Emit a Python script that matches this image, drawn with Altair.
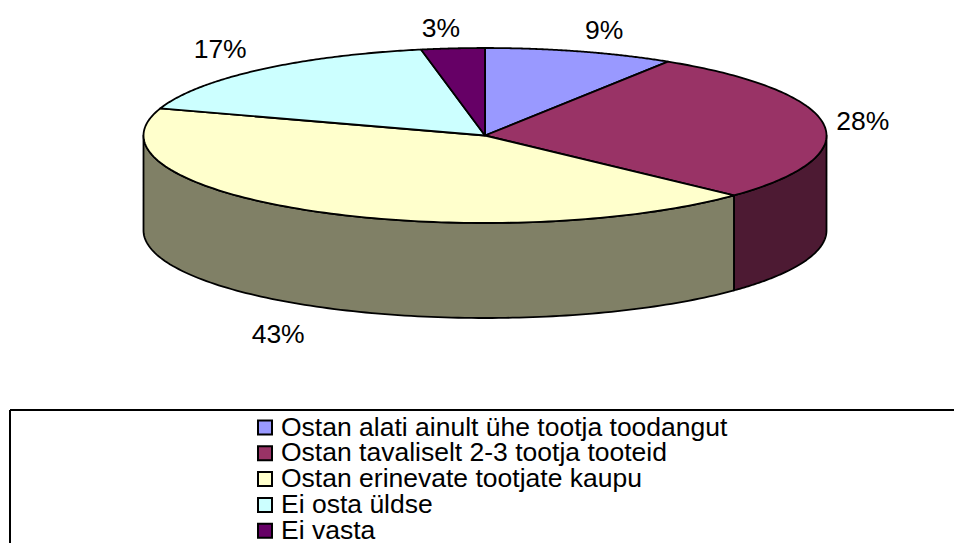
import math
import altair as alt
import pandas as pd

# Data
categories = ["Ostan alati ainult ühe tootja toodangut", "Ostan tavaliselt 2-3 tootja tooteid",
              "Ostan erinevate tootjate kaupu", "Ei osta üldse", "Ei vasta"]
shares = [9, 28, 43, 17, 3]
top_colors = ["#9999FF", "#993366", "#FFFFCC", "#CCFFFF", "#660066"]
side_colors = ["#4D4D80", "#4D1A33", "#808066", "#668080", "#330033"]

# Layout (page pixels)
W, H = 946, 535
CX, CY, RX, RY, DEPTH = 485, 135.5, 341.5, 87.5, 95
LABEL_SHIFT = [(24, -20), (39, -3), (-33, 29), (-39, -20), (-12, -19)]
BOX_X, BOX_Y = 10, 410
LEG_X, LEG_TEXT_X, LEG_Y0, LEG_STEP, LEG_SIZE = 258, 281, 427.5, 25.8, 14
FONT = "Liberation Sans"
LABEL_FS, LEGEND_FS = 26.5, 26.5


def pt(deg, drop=0.0):
    a = math.radians(deg)
    return CX + RX * math.sin(a), CY - RY * math.cos(a) + drop


tops, sides, labels = [], [], []
cum = 0.0
for i, (cat, s) in enumerate(zip(categories, shares)):
    a0, a1 = cum * 3.6, (cum + s) * 3.6
    cum += s
    path = [(CX, CY)] + [pt(a0 + (a1 - a0) * k / 120) for k in range(121)]
    for k, (x, y) in enumerate(path):
        tops.append(dict(slice=cat, k=k, x=x, y=y, c=top_colors[i]))
    b0, b1 = max(a0, 90), min(a1, 270)
    if b1 > b0:
        arc = [b0 + (b1 - b0) * k / 120 for k in range(121)]
        path = [pt(d) for d in arc] + [pt(d, DEPTH) for d in reversed(arc)]
        for k, (x, y) in enumerate(path):
            sides.append(dict(slice=cat, k=k, x=x, y=y, c=side_colors[i]))
    mid = (a0 + a1) / 2
    drop = DEPTH if 90 < mid < 270 else 0
    ex, ey = pt(mid, drop)
    labels.append(dict(x=ex + LABEL_SHIFT[i][0], y=ey + LABEL_SHIFT[i][1], t=f"{s}%"))

x_scale = alt.Scale(domain=[8, 8 + W], nice=False, zero=False)
y_scale = alt.Scale(domain=[8 + H, 8], nice=False, zero=False)
X = alt.X("x:Q", scale=x_scale, axis=None)
Y = alt.Y("y:Q", scale=y_scale, axis=None)


def faces(rows):
    return alt.Chart(pd.DataFrame(rows)).mark_line(
        interpolate="linear-closed", stroke="black", strokeWidth=1.8, strokeJoin="round"
    ).encode(x=X, y=Y, detail="slice:N", order="k:Q",
             fill=alt.Fill("c:N", scale=None, legend=None))


label_layer = alt.Chart(pd.DataFrame(labels)).mark_text(
    font=FONT, fontSize=LABEL_FS, color="black", align="center", baseline="middle"
).encode(x=X, y=Y, text="t:N")

box_h = alt.Chart(pd.DataFrame([dict(x=BOX_X, x2=8 + W, y=BOX_Y)])).mark_rule(
    color="black", strokeWidth=2).encode(x=X, x2="x2:Q", y=Y)
box_v = alt.Chart(pd.DataFrame([dict(x=BOX_X, y=BOX_Y, y2=8 + H)])).mark_rule(
    color="black", strokeWidth=2).encode(x=X, y=Y, y2="y2:Q")

leg_rows = [dict(x=LEG_X, x2=LEG_X + LEG_SIZE, y=LEG_Y0 + i * LEG_STEP - LEG_SIZE / 2,
                 y2=LEG_Y0 + i * LEG_STEP + LEG_SIZE / 2, c=top_colors[i],
                 tx=LEG_TEXT_X, ty=LEG_Y0 + i * LEG_STEP, t=categories[i])
            for i in range(len(categories))]
leg_df = pd.DataFrame(leg_rows)
swatches = alt.Chart(leg_df).mark_rect(stroke="black", strokeWidth=2).encode(
    x=X, x2="x2:Q", y=Y, y2="y2:Q", fill=alt.Fill("c:N", scale=None, legend=None))
leg_text = alt.Chart(leg_df).mark_text(
    font=FONT, fontSize=LEGEND_FS, color="black", align="left", baseline="middle"
).encode(x=alt.X("tx:Q", scale=x_scale, axis=None), y=alt.Y("ty:Q", scale=y_scale, axis=None), text="t:N")

chart = alt.layer(faces(sides), faces(tops), label_layer, box_h, box_v, swatches, leg_text).properties(
    width=W, height=H, padding=0, background="white",
    autosize=alt.AutoSizeParams(type="none")
).configure_view(stroke=None)

chart.save("out.html", embed_options={"renderer": "svg", "actions": False})
